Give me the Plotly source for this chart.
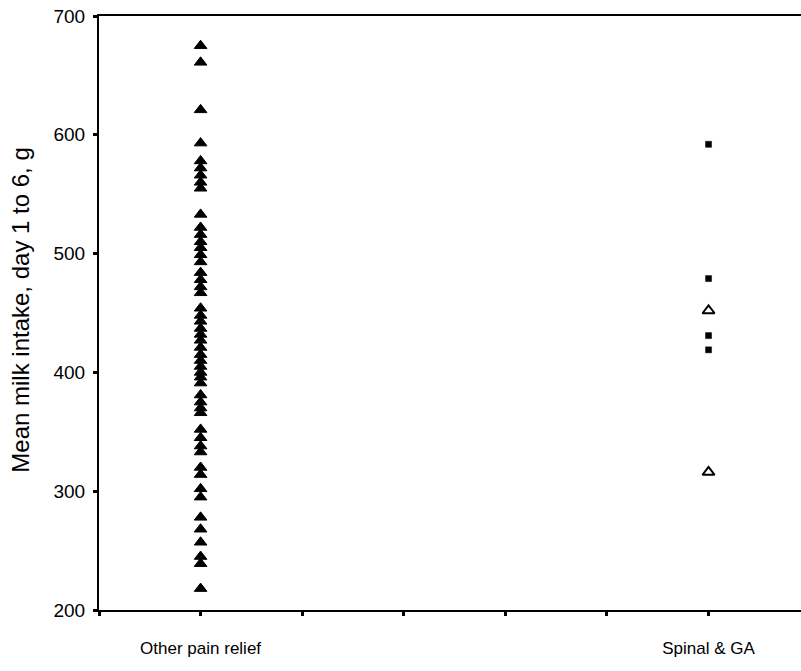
import plotly.graph_objects as go

categories = ["Other pain relief", "Spinal & GA"]
category_ticks = ["", "Other pain relief", "", "", "", "", "Spinal & GA"]
y_title = "Mean milk intake, day 1 to 6, g"

other_triangles = [675, 661, 621, 593, 578, 572, 566, 560, 555, 533, 522, 516, 510,
                   505, 499, 493, 484, 478, 472, 467, 454, 448, 443, 437, 432, 427,
                   421, 415, 410, 405, 400, 396, 391, 381, 375, 370, 366, 352, 345,
                   338, 333, 320, 314, 302, 295, 278, 268, 257, 245, 239, 218]
spinal_squares = [592, 479, 431, 419]
spinal_triangles = [452, 316]

cat_pos = {"Other pain relief": 1, "Spinal & GA": 6}

fig = go.Figure()
fig.add_trace(go.Scatter(
    x=[cat_pos[categories[0]]] * len(other_triangles), y=other_triangles,
    mode="markers",
    marker=dict(symbol="triangle-up", size=11, color="black",
                line=dict(color="black", width=1)),
    showlegend=False))
fig.add_trace(go.Scatter(
    x=[cat_pos[categories[1]]] * len(spinal_squares), y=spinal_squares,
    mode="markers",
    marker=dict(symbol="square", size=6, color="black",
                line=dict(color="black", width=0.5)),
    showlegend=False))
fig.add_trace(go.Scatter(
    x=[cat_pos[categories[1]]] * len(spinal_triangles), y=spinal_triangles,
    mode="markers",
    marker=dict(symbol="triangle-up-open", size=10.5, color="black",
                line=dict(color="black", width=2)),
    showlegend=False))

font_family = "Liberation Sans, Arial, sans-serif"
fig.update_layout(
    width=801, height=671,
    margin=dict(l=99, r=0, t=16, b=61),
    paper_bgcolor="white", plot_bgcolor="white",
    font=dict(family=font_family, color="black"),
    xaxis=dict(range=[0, 6.91], tickvals=list(range(7)), ticktext=category_ticks,
               automargin=False,
               showgrid=False, zeroline=False, showline=True, linecolor="black",
               linewidth=2, mirror=True, ticks="outside", ticklen=4, tickwidth=3,
               tickcolor="black", tickfont=dict(size=17, family=font_family),
               ticklabelstandoff=18),
    yaxis=dict(range=[200, 700], tickvals=[200, 300, 400, 500, 600, 700],
               automargin=False,
               showgrid=False, zeroline=False, showline=True, linecolor="black",
               linewidth=2, ticks="outside", ticklen=4, tickwidth=3,
               tickcolor="black", tickfont=dict(size=19, family=font_family),
               ticklabelstandoff=4),
    annotations=[dict(text=y_title, textangle=-90, xref="paper", yref="paper",
                      x=-0.113, y=0.505, xanchor="center", yanchor="middle",
                      showarrow=False, font=dict(size=24, family=font_family))],
)

fig.write_html("out.html", config={"displayModeBar": False},
               post_script="document.body.style.margin='0';document.body.style.overflow='hidden';")
